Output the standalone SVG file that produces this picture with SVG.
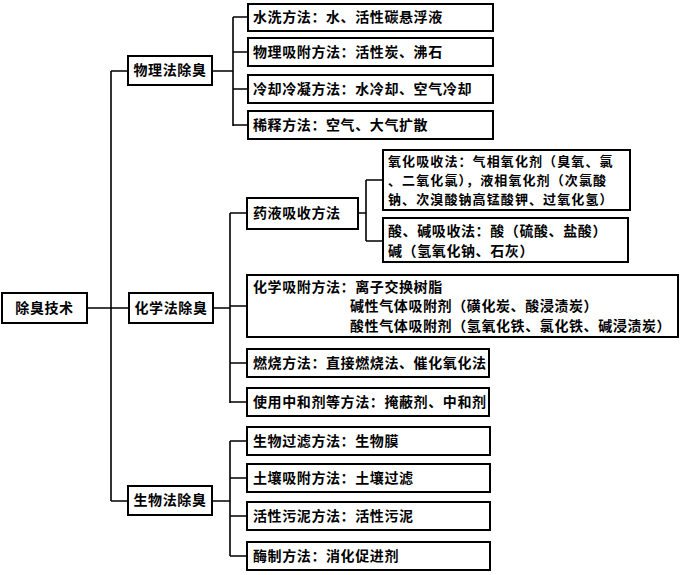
<svg xmlns="http://www.w3.org/2000/svg" width="683" height="575" viewBox="0 0 683 575">
<style>
rect{fill:#fff;stroke:#000;stroke-width:2}
text{font-family:"Noto Sans CJK SC","Noto Sans CJK JP",sans-serif;font-weight:bold;font-size:14px;letter-spacing:0.6px;fill:#000}
.s{font-size:13px;letter-spacing:1.1px}
.c path{fill:none;stroke:#000;stroke-width:1.6}
</style>
<rect x="0" y="0" width="683" height="575" style="stroke:none"/>
<g class="c">
<path d="M87 308H129M111 71V501M111 71H128M111 501H128"/>
<path d="M212 71H233M233 17V126M233 17H248M233 52H248M233 89H248M233 125H248"/>
<path d="M213 308H230M230 213V403M230 213H247M230 306H247M230 363H247M230 402H247"/>
<path d="M358 213H366M366 180V241M366 180H383M366 241H383"/>
<path d="M212 501H230M230 441V556M230 441H247M230 478H247M230 516H247M230 556H247"/>
</g>
<g id="root"><rect x="2" y="293" width="85" height="30"/><text x="44.5" y="313" text-anchor="middle">除臭技术</text></g>
<g id="phys"><rect x="128" y="56" width="84" height="29"/><text x="170" y="75" text-anchor="middle">物理法除臭</text></g>
<g id="chem"><rect x="129" y="293" width="84" height="30"/><text x="171" y="313" text-anchor="middle">化学法除臭</text></g>
<g id="bio"><rect x="128" y="486" width="84" height="29"/><text x="170" y="505" text-anchor="middle">生物法除臭</text></g>
<g id="p1"><rect x="248" y="4" width="245" height="27"/><text x="253" y="22">水洗方法：水、活性碳悬浮液</text></g>
<g id="p2"><rect x="248" y="38" width="245" height="28"/><text x="253" y="57">物理吸附方法：活性炭、沸石</text></g>
<g id="p3"><rect x="248" y="75" width="245" height="28"/><text x="253" y="94">冷却冷凝方法：水冷却、空气冷却</text></g>
<g id="p4"><rect x="248" y="111" width="245" height="28"/><text x="253" y="130">稀释方法：空气、大气扩散</text></g>
<g id="c1"><rect x="247" y="198" width="111" height="31"/><text x="253" y="218">药液吸收方法</text></g>
<g id="c1a"><rect x="383" y="150" width="247" height="60"/><text class="s" x="388" y="166">氧化吸收法：气相氧化剂（臭氧、氯</text><text class="s" x="388" y="185">、二氧化氯），液相氧化剂（次氯酸</text><text class="s" x="388" y="204">钠、次溴酸钠高锰酸钾、过氧化氢）</text></g>
<g id="c1b"><rect x="383" y="218" width="245" height="44"/><text x="388" y="236">酸、碱吸收法：酸（硫酸、盐酸）</text><text x="388" y="256">碱（氢氧化钠、石灰）</text></g>
<g id="c2"><rect x="247" y="275" width="431" height="62"/><text x="253" y="292">化学吸附方法：离子交换树脂</text><text x="350" y="311">碱性气体吸附剂（磺化炭、酸浸渍炭）</text><text x="350" y="331">酸性气体吸附剂（氢氧化铁、氯化铁、碱浸渍炭）</text></g>
<g id="c3"><rect x="247" y="349" width="242" height="28"/><text x="253" y="368">燃烧方法：直接燃烧法、催化氧化法</text></g>
<g id="c4"><rect x="247" y="388" width="242" height="28"/><text x="253" y="407">使用中和剂等方法：掩蔽剂、中和剂</text></g>
<g id="b1"><rect x="247" y="427" width="243" height="28"/><text x="253" y="446">生物过滤方法：生物膜</text></g>
<g id="b2"><rect x="247" y="464" width="243" height="28"/><text x="253" y="483">土壤吸附方法：土壤过滤</text></g>
<g id="b3"><rect x="247" y="502" width="243" height="28"/><text x="253" y="521">活性污泥方法：活性污泥</text></g>
<g id="b4"><rect x="247" y="542" width="243" height="28"/><text x="253" y="561">酶制方法：消化促进剂</text></g>
</svg>
